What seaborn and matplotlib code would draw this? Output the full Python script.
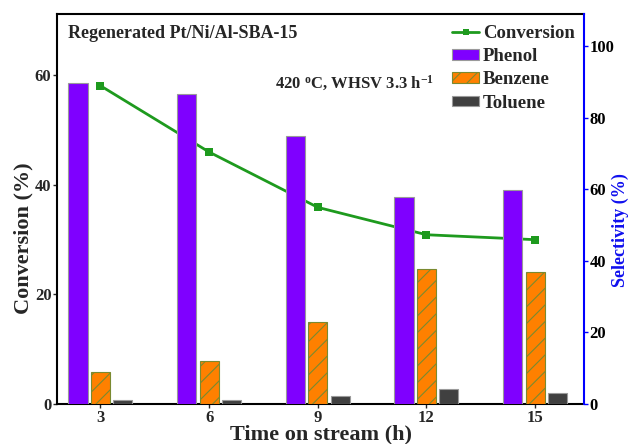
import matplotlib
matplotlib.use("Agg")
import matplotlib.pyplot as plt
import seaborn as sns
import pandas as pd
from matplotlib.lines import Line2D
from matplotlib.patches import Patch

times = [3, 6, 9, 12, 15]
conversion = [58.1, 46.0, 35.9, 30.9, 30.0]
phenol = [89.7, 86.7, 74.8, 57.8, 59.7]
benzene = [9.0, 12.0, 22.9, 37.8, 37.0]
toluene = [1.2, 1.2, 2.1, 4.1, 3.1]
products = ["Phenol", "Benzene", "Toluene"]
colors = ["#7F00FF", "#FF8000", "#404040"]

sns.set_style("ticks")
plt.rcParams["font.family"] = ["Liberation Serif", "DejaVu Serif"]
plt.rcParams["font.weight"] = "bold"
plt.rcParams["axes.labelweight"] = "bold"
plt.rcParams["hatch.linewidth"] = 0.8
plt.rcParams["mathtext.fontset"] = "custom"
plt.rcParams["mathtext.rm"] = "Liberation Serif:bold"
plt.rcParams["mathtext.bf"] = "Liberation Serif:bold"
plt.rcParams["mathtext.default"] = "bf"

df_conv = pd.DataFrame({"time": times, "conv": conversion})
df_sel = pd.DataFrame({
    "time": times * 3,
    "value": phenol + benzene + toluene,
    "product": [p for p in products for _ in times],
})

fig = plt.figure(figsize=(6.32, 4.44), dpi=100)
ax = fig.add_axes([57 / 632, 40 / 444, (584 - 57) / 632, (404 - 14) / 444])
ax2 = ax.twinx()

sns.lineplot(data=df_conv, x="time", y="conv", ax=ax, color="#1E9A1E",
             marker="s", markersize=6, markeredgewidth=0, linewidth=2)

sns.barplot(data=df_sel, x="time", y="value", hue="product", ax=ax2,
            native_scale=True, width=0.62, gap=0.15, palette=colors,
            hue_order=products, edgecolor="#9a9a9a", linewidth=0.8,
            legend=False, errorbar=None, saturation=1)

for p in ax2.containers[1]:
    p.set_hatch("//")
    p.set_edgecolor("#7a8a30")

ax.set_xlim(1.8, 16.35)
ax.set_ylim(0, 71.2)
ax2.set_ylim(0, 109)
ax.set_xticks(times)
ax.set_xticklabels([str(t) for t in times])
ax.set_yticks([0, 20, 40, 60])
ax2.set_yticks([0, 20, 40, 60, 80, 100])

ax.set_xlabel("Time on stream (h)", fontsize=16, fontweight="bold", labelpad=-1)
ax.set_ylabel("Conversion (%)", fontsize=16, fontweight="bold")
ax.yaxis.set_label_coords(-0.0455, 0.426)
ax2.set_ylabel("Selectivity (%)", fontsize=13, fontweight="bold", color="#1010EE")
ax2.yaxis.set_label_coords(1.0526, 0.446)

for a in (ax, ax2):
    a.tick_params(labelsize=12, width=1, length=3, direction="out", pad=1)
    for lab in a.get_xticklabels() + a.get_yticklabels():
        lab.set_fontweight("bold")
for s in ["left", "bottom", "top"]:
    ax.spines[s].set_linewidth(1.5)
    ax.spines[s].set_color("black")
ax2.spines["right"].set_color("#0000FF")
ax2.spines["right"].set_linewidth(1.5)
ax2.spines["left"].set_visible(False)
ax2.spines["top"].set_visible(False)
ax2.spines["bottom"].set_visible(False)
ax.spines["right"].set_visible(False)
ax2.tick_params(axis="y", colors="#0000FF", labelcolor="black")

fig.text(68 / 632, 1 - 33 / 444, "Regenerated Pt/Ni/Al-SBA-15", fontsize=13,
         fontweight="bold", va="center", ha="left")
fig.text(275 / 632, 1 - 83 / 444, r"420 $^{\mathbf{o}}$C, WHSV 3.3 h$^{\mathbf{-1}}$", fontsize=12,
         fontweight="bold", va="center", ha="left")

handles = [Line2D([], [], color="#1E9A1E", marker="s", markersize=5, linewidth=2, markeredgewidth=0)]
for c, prod in zip(colors, products):
    h = Patch(facecolor=c, edgecolor="#9a9a9a" if prod != "Benzene" else "#7a8a30",
              hatch="//" if prod == "Benzene" else None, linewidth=0.8)
    handles.append(h)
labels = ["Conversion"] + products
leg = ax2.legend(handles, labels, loc="upper left", bbox_to_anchor=(452 / 632, 1 - 25 / 444),
                 bbox_transform=fig.transFigure, frameon=False, fontsize=13.5,
                 handlelength=1.45, handleheight=0.5, labelspacing=0.33, handletextpad=0.2,
                 borderaxespad=0, borderpad=0)
for t in leg.get_texts():
    t.set_fontweight("bold")

fig.savefig("out.png", dpi=100)
